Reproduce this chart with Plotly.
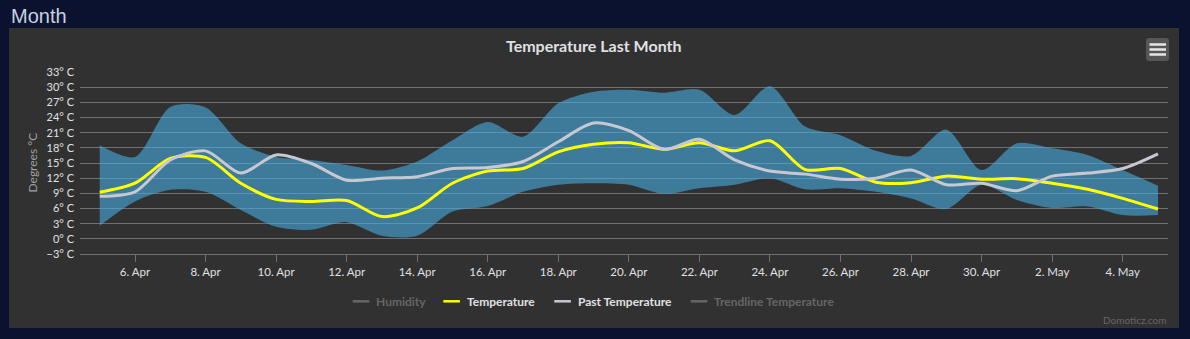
import pandas as pd
import plotly.graph_objects as go

# Daily readings, 5 Apr - 5 May
dates = pd.date_range("2024-04-05", "2024-05-05", freq="D")

temperature = [9.2, 11.0, 15.9, 16.1, 11.0, 7.8, 7.4, 7.6, 4.4, 6.1, 11.0, 13.4,
               13.9, 17.2, 18.7, 19.0, 17.7, 19.0, 17.4, 19.4, 13.7, 13.9, 11.2,
               11.1, 12.4, 11.8, 11.9, 11.0, 9.8, 8.0, 5.9]
past_temperature = [8.4, 9.3, 15.6, 17.4, 13.0, 16.6, 14.9, 11.6, 12.0, 12.3, 13.9,
                    14.1, 15.3, 19.2, 22.9, 21.4, 17.7, 19.7, 15.6, 13.4, 12.8, 11.8,
                    12.0, 13.6, 10.7, 11.0, 9.5, 12.4, 13.0, 13.9, 16.8]
temp_max = [18.5, 16.2, 26.1, 26.0, 18.9, 16.2, 15.6, 14.6, 13.5, 15.3, 19.5, 23.1,
            20.2, 26.8, 29.1, 29.5, 28.9, 29.5, 24.5, 30.2, 22.2, 20.5, 17.4, 16.4,
            21.6, 13.6, 18.9, 17.9, 16.6, 13.6, 10.5]
temp_min = [2.6, 7.4, 9.7, 9.3, 5.7, 2.4, 1.8, 3.3, 0.6, 0.6, 5.4, 6.5, 9.3, 10.7,
            11.0, 10.7, 8.9, 10.0, 10.7, 12.0, 9.8, 10.0, 9.3, 8.0, 5.9, 10.7, 7.7,
            6.1, 6.4, 4.7, 4.7]

y_ticks = list(range(-3, 34, 3))
legend_items = [("Humidity", "#666666", "#666666"),
                ("Temperature", "#ffff00", "#e0e0e3"),
                ("Past Temperature", "#c8c8d2", "#e0e0e3"),
                ("Trendline Temperature", "#666666", "#666666")]

W, H = 1190, 339
L, R, T, B = 80, 1168, 72, 254
FONT = "Lato"


def px(x):
    return (x - L) / (R - L)


def py(y):
    return (B - y) / (B - T)


fig = go.Figure()

# min/max range band
fig.add_trace(go.Scatter(x=dates, y=temp_max, mode="lines",
                         line=dict(width=0, shape="spline", smoothing=0.8),
                         hoverinfo="skip", showlegend=False))
fig.add_trace(go.Scatter(x=dates, y=temp_min, mode="lines", fill="tonexty",
                         fillcolor="rgba(72,172,225,0.6)",
                         line=dict(width=0, shape="spline", smoothing=0.8),
                         hoverinfo="skip", showlegend=False))
fig.add_trace(go.Scatter(x=dates, y=temperature, mode="lines", name="Temperature",
                         line=dict(color="#ffff00", width=3, shape="spline", smoothing=0.8),
                         showlegend=False))
fig.add_trace(go.Scatter(x=dates, y=past_temperature, mode="lines", name="Past Temperature",
                         line=dict(color="#c8c8d2", width=3, shape="spline", smoothing=0.8),
                         showlegend=False))

shapes = []
# chart panel
shapes.append(dict(type="rect", xref="paper", yref="paper", layer="below",
                   x0=px(9), x1=px(1179), y0=py(328), y1=py(28),
                   fillcolor="#313131", line=dict(width=0)))

# context menu button
bx0, bx1, by0, by1, r = 1146, 1169, 38, 61, 3
path = (f"M {px(bx0 + r)},{py(by0)} L {px(bx1 - r)},{py(by0)} "
        f"Q {px(bx1)},{py(by0)} {px(bx1)},{py(by0 + r)} "
        f"L {px(bx1)},{py(by1 - r)} Q {px(bx1)},{py(by1)} {px(bx1 - r)},{py(by1)} "
        f"L {px(bx0 + r)},{py(by1)} Q {px(bx0)},{py(by1)} {px(bx0)},{py(by1 - r)} "
        f"L {px(bx0)},{py(by0 + r)} Q {px(bx0)},{py(by0)} {px(bx0 + r)},{py(by0)} Z")
shapes.append(dict(type="path", xref="paper", yref="paper", path=path,
                   fillcolor="#565656", line=dict(width=0)))
for yy in (44.5, 49.5, 54.5):
    shapes.append(dict(type="line", xref="paper", yref="paper",
                       x0=px(1149.5), x1=px(1166), y0=py(yy), y1=py(yy),
                       line=dict(color="#e6e6e6", width=2.5)))

annotations = [
    dict(text="Month", x=px(9), y=py(15.5), xref="paper", yref="paper",
         xanchor="left", yanchor="middle", showarrow=False,
         font=dict(family="Liberation Sans", size=20, color="#c8d0e0")),
    dict(text="<b>Temperature Last Month</b>", x=px(594), y=py(45), xref="paper",
         yref="paper", xanchor="center", yanchor="middle", showarrow=False,
         font=dict(family=FONT, size=16, color="#e0e0e3")),
    dict(text="Degrees °C", x=px(32), y=py(162.5), xref="paper", yref="paper",
         xanchor="center", yanchor="middle", showarrow=False, textangle=-90,
         font=dict(family=FONT, size=12, color="#a0a0a3")),
    dict(text="Domoticz.com", x=px(1168), y=py(320), xref="paper", yref="paper",
         xanchor="right", yanchor="middle", showarrow=False,
         font=dict(family=FONT, size=10, color="#666666")),
]

# legend row
legend_x = [(352.7, 374.3), (443.3, 465), (554.3, 576), (690.7, 712.3)]
ly = 301.3
for (name, lc, tc), (lx, tx) in zip(legend_items, legend_x):
    shapes.append(dict(type="line", xref="paper", yref="paper",
                       x0=px(lx), x1=px(lx + 16.6), y0=py(ly), y1=py(ly),
                       line=dict(color=lc, width=2.5)))
    annotations.append(dict(text=f"<b>{name}</b>", x=px(tx), y=py(ly), xref="paper",
                            yref="paper", xanchor="left", yanchor="middle",
                            showarrow=False, font=dict(family=FONT, size=12, color=tc)))

fig.update_layout(
    width=W, height=H,
    margin=dict(l=L, r=W - R, t=T, b=H - B, pad=0),
    paper_bgcolor="#0a1230",
    plot_bgcolor="rgba(0,0,0,0)",
    shapes=shapes,
    annotations=annotations,
    showlegend=False,
    xaxis=dict(
        type="date",
        range=["2024-04-04 10:35", "2024-05-05 06:49"],
        tick0="2024-04-06", dtick=2 * 86400000,
        tickformat="%-d. %b",
        showgrid=False, zeroline=False,
        showline=True, linecolor="#707070", linewidth=1,
        ticks="outside", ticklen=7, tickcolor="#707070", tickwidth=1,
        tickfont=dict(family=FONT, size=11.5, color="#e0e0e3"),
        fixedrange=True,
    ),
    yaxis=dict(
        range=[-3, 33],
        tickvals=y_ticks,
        ticktext=[f"{v}° C" if v >= 0 else f"−{abs(v)}° C" for v in y_ticks],
        showgrid=True, gridcolor="#707070", gridwidth=1,
        zeroline=False, showline=False, ticks="",
        ticklabelstandoff=5,
        tickfont=dict(family=FONT, size=11, color="#e0e0e3"),
        fixedrange=True,
    ),
)

fig.write_html("out.html", config={"displayModeBar": False})
